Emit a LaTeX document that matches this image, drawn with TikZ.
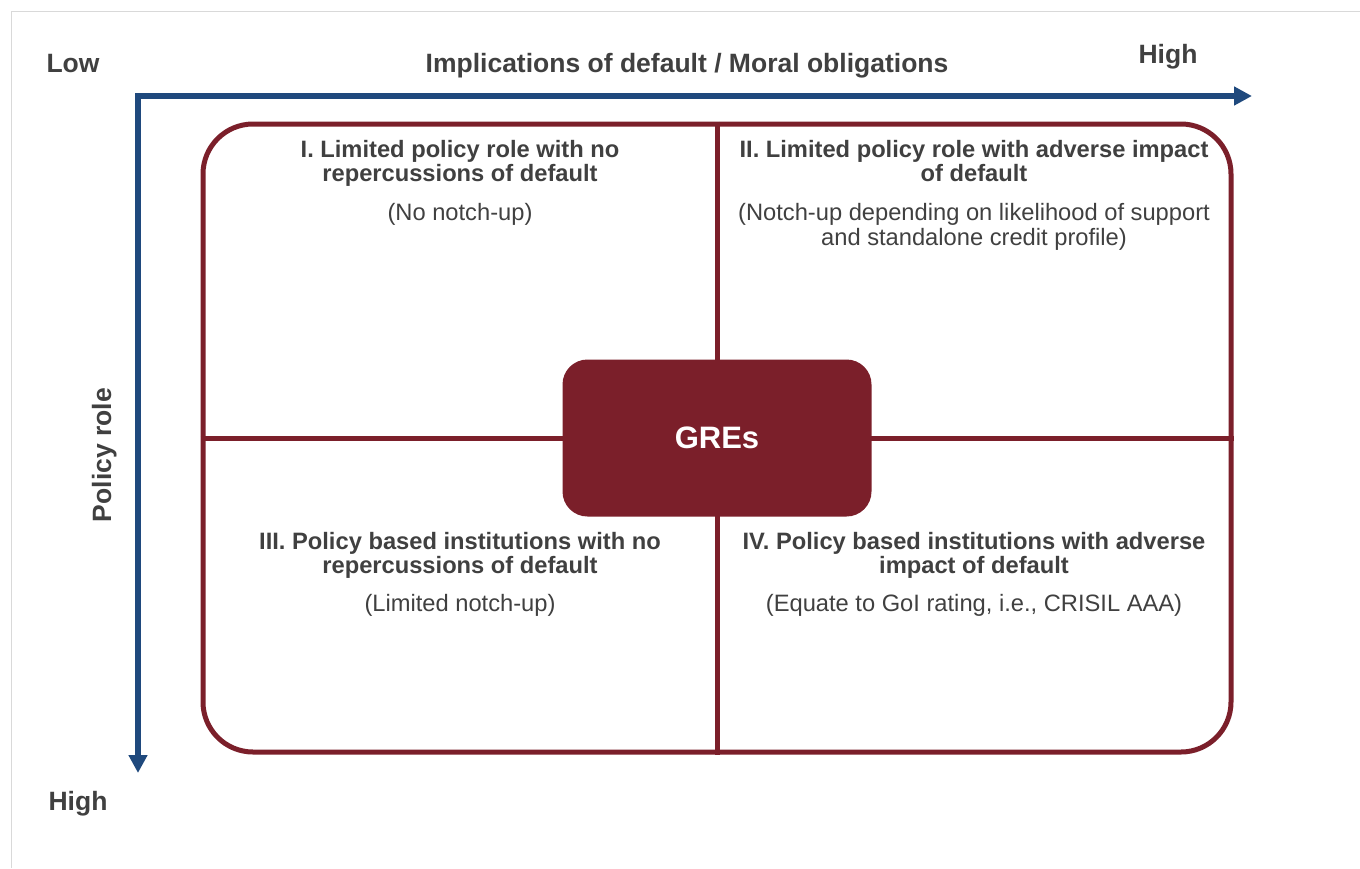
\documentclass[tikz,border=0pt]{standalone}
\usepackage{fontspec}
\setmainfont{Liberation Sans}
\usepackage{xcolor}
\usetikzlibrary{arrows.meta}

\definecolor{axisblue}{HTML}{1F497D}
\definecolor{gremaroon}{HTML}{7B1F2A}
\definecolor{textgrey}{HTML}{404040}
\definecolor{edgegrey}{HTML}{D9D9D9}

\begin{document}
\begin{tikzpicture}[x=1pt, y=-1pt,
    axis/.style={line width=6pt, color=axisblue,
      {Triangle[length=18pt,width=18pt]}-{Triangle[length=18pt,width=18pt]}},
    axislabel/.style={text=textgrey, inner sep=0pt, anchor=base,
      font=\fontsize{26.5}{30}\selectfont\bfseries},
    quadtitle/.style={text=textgrey, align=center, inner sep=0pt, anchor=north,
      font=\fontsize{23.7}{24}\selectfont\bfseries},
    quadnote/.style={text=textgrey, align=center, inner sep=0pt, anchor=north,
      font=\fontsize{23.7}{25}\selectfont},
    quadframe/.style={draw=gremaroon, line width=5pt, rounded corners=50pt,
      minimum width=1028pt, minimum height=628pt, inner sep=0pt},
    divider/.style={draw=gremaroon, line width=5pt},
    grebox/.style={fill=gremaroon, rounded corners=25pt, text=white,
      minimum width=309pt, minimum height=157pt,
      font=\fontsize{31}{36}\selectfont\bfseries}]
    \useasboundingbox (0,0) rectangle (1360,868);
    \draw[edgegrey, line width=1pt] (11,868) -- (11,11) -- (1360,11);

    % axes
    \coordinate (xend) at (1252,96);
    \coordinate (origin) at (138,96);
    \coordinate (yend) at (138,773);
    \draw[axis] (xend) -- (origin) -- (yend);

    \node[axislabel] (xlow) at (73,72) {Low};
    \node[axislabel] (xtitle) at (687,72) {Implications of default / Moral obligations};
    \node[axislabel] (xhigh) at (1168,63) {High};
    \node[axislabel] (yhigh) at (78,810) {High};
    \node[axislabel, rotate=90] (ytitle) at (111,455) {Policy role};

    % quadrants
    \node[quadframe] (frame) at (717,438) {};
    \draw[divider] (frame.north) -- (frame.south);
    \draw[divider] (frame.west) -- (frame.east);
    \node[grebox] (gre) at (frame.center) {GREs};

    \node[quadtitle] (q1) at (460,140) {I. Limited policy role with no\\repercussions of default};
    \node[quadnote] (q1note) at (460,203) {(No notch-up)};
    \node[quadtitle] (q2) at (974,140) {II. Limited policy role with adverse impact\\of default};
    \node[quadnote] (q2note) at (974,203) {(Notch-up depending on likelihood of support\\and standalone credit profile)};
    \node[quadtitle] (q3) at (460,532) {III. Policy based institutions with no\\repercussions of default};
    \node[quadnote] (q3note) at (460,594) {(Limited notch-up)};
    \node[quadtitle] (q4) at (974,532) {IV. Policy based institutions with adverse\\impact of default};
    \node[quadnote] (q4note) at (974,594) {(Equate to GoI rating, i.e., CRISIL AAA)};
\end{tikzpicture}
\end{document}
